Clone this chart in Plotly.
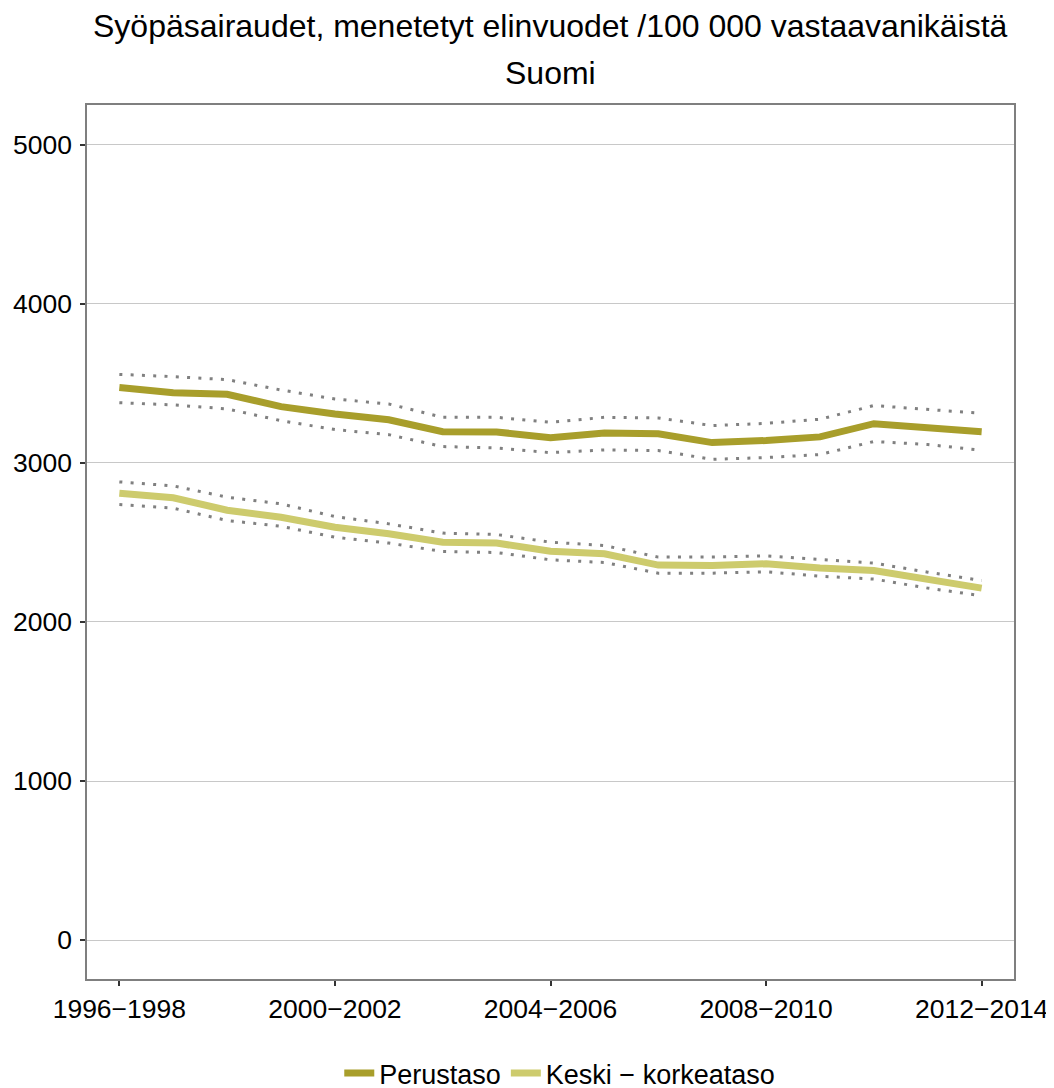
import plotly.graph_objects as go

periods = ["1996−1998", "1997−1999", "1998−2000", "1999−2001", "2000−2002", "2001−2003",
           "2002−2004", "2003−2005", "2004−2006", "2005−2007", "2006−2008", "2007−2009",
           "2008−2010", "2009−2011", "2010−2012", "2011−2013", "2012−2014"]
tick_labels = ["1996−1998", "2000−2002", "2004−2006", "2008−2010", "2012−2014"]
y_ticks = [0, 1000, 2000, 3000, 4000, 5000]

perus = [3474, 3441, 3432, 3354, 3308, 3272, 3197, 3195, 3159, 3189, 3183, 3128, 3141, 3164, 3247, 3226, 3197]
perus_hi = [3557, 3543, 3524, 3459, 3402, 3371, 3287, 3287, 3256, 3287, 3283, 3235, 3249, 3275, 3361, 3337, 3312]
perus_lo = [3379, 3365, 3340, 3266, 3210, 3178, 3103, 3095, 3065, 3082, 3078, 3023, 3034, 3053, 3135, 3116, 3080]

keski = [2810, 2781, 2703, 2659, 2596, 2555, 2502, 2496, 2445, 2429, 2358, 2356, 2366, 2339, 2324, 2272, 2213]
keski_hi = [2881, 2856, 2785, 2743, 2663, 2617, 2559, 2550, 2502, 2481, 2408, 2408, 2416, 2391, 2370, 2313, 2261]
keski_lo = [2739, 2716, 2638, 2602, 2533, 2496, 2443, 2437, 2391, 2374, 2307, 2307, 2316, 2288, 2270, 2213, 2165]

c_perus = "#A89E2B"
c_keski = "#CDCB6D"
c_ci = "#808080"
FONT = "Liberation Sans, Arial, sans-serif"

fig = go.Figure()
for hi, lo in [(perus_hi, perus_lo), (keski_hi, keski_lo)]:
    for s in (hi, lo):
        fig.add_trace(go.Scatter(x=periods, y=s, mode="lines", showlegend=False,
                                 line=dict(color=c_ci, width=3, dash="3px,8.3px"), hoverinfo="skip"))
fig.add_trace(go.Scatter(x=periods, y=perus, mode="lines", name="Perustaso",
                         line=dict(color=c_perus, width=7)))
fig.add_trace(go.Scatter(x=periods, y=keski, mode="lines", name="Keski − korkeataso",
                         line=dict(color=c_keski, width=7)))

fig.update_layout(
    width=1054, height=1102,
    margin=dict(l=79, r=48, t=97, b=110),
    paper_bgcolor="white", plot_bgcolor="white",
    font=dict(family=FONT, size=26, color="black"),
    showlegend=True,
    legend=dict(orientation="h", x=0.51, xanchor="center", y=-0.08, yanchor="top",
                font=dict(size=27), tracegroupgap=0),
    annotations=[
        dict(text="Syöpäsairaudet, menetetyt elinvuodet /100 000 vastaavanikäistä",
             xref="paper", yref="paper", x=0.5, y=1.0, yshift=79, xanchor="center",
             yanchor="middle", showarrow=False, font=dict(size=32, family=FONT)),
        dict(text="Suomi", xref="paper", yref="paper", x=0.5, y=1.0, yshift=32,
             xanchor="center", yanchor="middle", showarrow=False, font=dict(size=32, family=FONT)),
    ],
)
fig.update_xaxes(type="category", range=[-0.6, 16.6], tickvals=tick_labels, ticktext=tick_labels,
                 showgrid=False, ticks="outside", ticklen=5, tickcolor="#333333", tickwidth=2,
                 showline=True, linecolor="#7F7F7F", linewidth=1.5, mirror=True,
                 automargin=False,
                 tickfont=dict(size=26.5, family=FONT), zeroline=False)
fig.update_yaxes(range=[-245, 5251], tickvals=y_ticks,
                 showgrid=True, gridcolor="#C8C8C8", gridwidth=1,
                 ticks="outside", ticklen=5, tickcolor="#333333", tickwidth=2,
                 showline=True, linecolor="#7F7F7F", linewidth=1.5, mirror=True,
                 ticklabelstandoff=3, automargin=False,
                 tickfont=dict(size=26.5, family=FONT), zeroline=False)

fig.write_html("out.html")
